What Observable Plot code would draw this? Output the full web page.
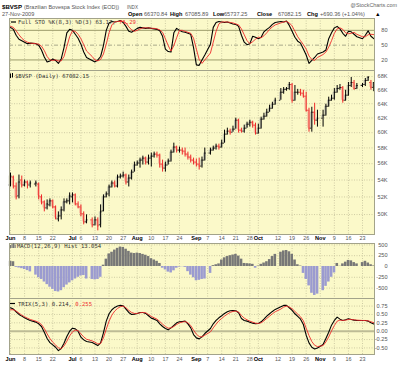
<!DOCTYPE html>
<html><head><meta charset="utf-8">
<script src="https://cdn.jsdelivr.net/npm/d3@7"></script>
<script src="https://cdn.jsdelivr.net/npm/@observablehq/plot@0.6"></script>
<style>
body{margin:0;background:#fff;}
#chart{position:relative;width:400px;height:365px;overflow:hidden;}
#chart svg{position:absolute;left:0;}
</style></head><body><div id="chart"></div>
<script>
// ---------- DATA ----------
const holidays = ["2009-06-11","2009-07-09","2009-09-07","2009-10-12","2009-11-02","2009-11-20"];

const open = [53400,54360,53280,52120,54000,53400,53760,53400,53520,53520,
52010,51430,50750,51090,51550,50860,49520,49850,50520,51430,
51550,52010,52240,51200,50860,50080,49190,49410,48870,49410,
48870,50410,52010,52350,53170,53640,53280,54360,54480,54600,
53760,54240,54960,55830,56080,56450,56700,56200,56700,56950,
57210,57080,55950,55450,55830,56330,57460,58110,57720,57720,
57590,57210,56830,56450,56200,55950,55700,56450,57340,57720,
57980,58230,58110,58620,59810,60210,60070,60480,61700,60340,
60210,60610,61150,61420,61020,59940,60610,61840,62250,62800,
63360,63930,64500,65660,66080,66200,66800,64500,65660,65660,
65520,65080,63080,60610,62800,61700,61970,62390,63640,64500,
64790,65660,66200,66350,64500,65230,66650,67100,66200,66650,
66800,67400,67100,66370.84];
const high = [54840,54480,53640,54600,54480,54000,53880,53880,53880,53640,
52240,51550,51660,51780,51660,50970,50300,50860,51780,51780,
52470,52470,52350,51430,51090,50300,49970,49630,49740,49630,
51090,52240,52580,53400,53880,53880,54600,54720,54960,54720,
54600,55210,56200,56330,56700,56950,56830,57080,57340,57460,
57460,57210,56450,56200,56580,57720,58620,58230,58110,57980,
57980,57460,57080,56700,56580,56700,56830,57980,57980,58230,
58490,58490,59020,60340,60610,60480,60880,61970,61840,60610,
61020,61420,61700,61560,61290,61150,62110,62660,63220,63790,
64210,64790,66200,66350,66350,67100,66950,66650,66080,66080,
65950,65660,63360,63500,64070,63080,63080,63930,64940,65230,
66200,66650,66800,66500,65950,67100,67850,67400,66950,66950,
67700,68000,67400,67085.89];
const low = [53170,52930,51660,51780,53050,53170,52930,53050,53170,51660,
51090,50300,50520,50860,50640,49410,49190,49410,50300,51200,
51090,51320,50970,50640,49740,48870,48980,48540,48760,48220,
48540,50300,51890,52010,53050,53050,53050,54120,54240,53400,
53170,54000,54960,55700,55450,55830,55830,55830,55580,56700,
56700,55450,54960,54960,55830,56200,57340,57340,57340,57080,
56830,56450,56080,55830,55580,55210,55450,56330,57080,57590,
57720,57720,57980,58620,59680,59680,60070,60480,59940,59940,
59940,60610,60750,60610,59680,59810,60480,61700,62110,62800,
63220,63790,64500,65370,65810,65950,64070,64360,65230,65080,
64790,62800,60070,60070,61020,60750,60750,62250,63500,64360,
64500,65520,65950,64070,64360,65080,66350,65950,66080,66350,
66500,67250,65950,65737.25];
const close = [54480,53280,52010,53760,53400,53760,53520,53640,53640,52120,
51320,50750,51200,51550,50860,49630,49850,50520,51430,51550,
52120,52240,51200,50860,50080,49190,49410,48870,49410,48760,
50300,52010,52350,53170,53640,53280,54360,54480,54600,53760,
54240,54960,55830,56080,56450,56700,56200,56700,56950,57210,
57080,55950,55450,55830,56330,57460,58110,57720,57720,57590,
57210,56830,56450,56200,55950,55700,56450,57340,57720,57980,
58230,58110,58620,59810,60210,60070,60480,61700,60340,60210,
60610,61150,61420,61020,59940,60610,61840,62250,62800,63360,
63930,64500,65660,66080,66200,66800,64500,65660,65660,65520,
65080,63080,60610,62800,61700,61970,62390,63640,64500,64790,
65660,66200,66350,64500,65230,66650,67100,66200,66650,66800,
67400,67850,66391.79,67082.15];

const stoK = [86,82,70,62,59,56,53,54,53,50,
40,26,16,18,22,19,13,22,45,75,
82,80,72,64,52,36,25,19,16,20,
27,49,80,95,98,97,98,100,96,88,
78,76,80,84,86,85,84,85,84,83,
82,79,68,42,37,36,75,84,80,77,
76,74,72,45,10,9,20,30,52,86,
96,98,97,96,97,95,93,92,88,70,
56,51,53,68,66,63,66,77,82,86,
92,96,98,97,99,90,78,66,58,54,
42,30,13,19,25,32,36,40,63,75,
85,88,83,74,68,78,77,72,67,63,
70,79,68,63.17];
const stoD = [88,86,79,71,64,59,56,54,53,52,
48,39,27,20,19,20,18,18,27,47,
67,79,78,72,63,51,38,27,20,18,
21,32,52,75,91,97,98,98,98,95,
87,81,78,80,83,85,85,85,84,84,
83,81,76,63,49,38,49,65,80,80,
78,76,74,64,42,21,13,20,34,56,
78,93,97,97,97,96,95,93,91,83,
71,59,53,57,62,66,65,69,75,82,
87,91,95,97,98,95,89,78,67,59,
51,42,28,21,19,25,31,36,46,59,
74,83,85,82,75,73,74,76,72,67,
67,71,72,71.29];
const macdHist = [120,110,-20,-35,-50,-70,-95,-125,-200,-260,
-300,-360,-420,-480,-530,-580,-590,-560,-490,-430,
-380,-330,-290,-250,-220,-210,-290,-300,-310,-300,
-250,30,170,290,330,380,420,450,440,400,
350,310,300,310,300,280,260,230,180,150,
120,70,-40,-80,-130,-150,-100,-40,-15,-5,
-20,-120,-200,-260,-330,-320,-300,-290,-160,20,
40,60,150,200,230,250,265,280,240,170,
70,65,60,50,-40,10,50,80,110,160,
230,280,330,360,370,340,280,150,40,10,
-160,-300,-450,-620,-670,-640,-560,-460,-360,-250,
-150,70,5,60,100,140,130,90,60,90,
120,80,40,13.054];
const trix = [0.70,0.66,0.58,0.50,0.45,0.40,0.36,0.32,0.27,0.22,
0.14,-0.03,-0.22,-0.34,-0.41,-0.48,-0.58,-0.52,-0.36,-0.16,
0.00,0.09,0.07,0.00,-0.18,-0.26,-0.31,-0.34,-0.38,-0.43,
-0.35,-0.05,0.30,0.52,0.64,0.71,0.75,0.77,0.76,0.66,
0.56,0.50,0.51,0.53,0.56,0.56,0.53,0.46,0.39,0.36,
0.32,0.22,0.14,0.08,0.04,0.10,0.17,0.25,0.28,0.29,
0.30,0.22,0.10,-0.10,-0.20,-0.23,-0.17,-0.07,0.08,0.22,
0.32,0.40,0.46,0.53,0.58,0.61,0.62,0.61,0.55,0.38,
0.32,0.30,0.27,0.24,0.22,0.23,0.28,0.36,0.45,0.52,
0.59,0.65,0.73,0.77,0.77,0.70,0.62,0.52,0.44,0.36,
0.20,-0.12,-0.35,-0.48,-0.53,-0.50,-0.40,-0.22,-0.03,0.18,
0.32,0.42,0.36,0.32,0.34,0.37,0.35,0.33,0.32,0.32,
0.32,0.30,0.25,0.214];
const trixSignal = [0.64,0.64,0.60,0.54,0.48,0.43,0.39,0.35,0.30,0.26,
0.20,0.08,-0.08,-0.22,-0.33,-0.41,-0.50,-0.52,-0.44,-0.30,
-0.14,-0.02,0.03,0.02,-0.08,-0.17,-0.24,-0.29,-0.33,-0.38,
-0.37,-0.20,0.06,0.30,0.48,0.60,0.68,0.73,0.75,0.70,
0.62,0.56,0.53,0.53,0.55,0.56,0.55,0.50,0.44,0.40,
0.36,0.29,0.21,0.14,0.09,0.10,0.14,0.20,0.25,0.27,
0.29,0.25,0.17,0.03,-0.09,-0.16,-0.17,-0.12,-0.02,0.10,
0.21,0.31,0.38,0.45,0.51,0.56,0.59,0.60,0.57,0.47,
0.39,0.34,0.30,0.27,0.24,0.23,0.25,0.31,0.38,0.45,
0.52,0.58,0.66,0.72,0.75,0.72,0.67,0.59,0.51,0.43,
0.31,0.09,-0.13,-0.31,-0.42,-0.46,-0.43,-0.32,-0.17,0.01,
0.17,0.30,0.33,0.32,0.33,0.35,0.35,0.34,0.33,0.32,
0.32,0.31,0.28,0.255];

const xTickDates = ["2009-06-01","2009-06-08","2009-06-15","2009-06-22","2009-07-01","2009-07-06","2009-07-13","2009-07-20","2009-07-27","2009-08-03","2009-08-10","2009-08-17","2009-08-24","2009-09-01","2009-09-07","2009-09-14","2009-09-21","2009-09-28","2009-10-01","2009-10-12","2009-10-19","2009-10-26","2009-11-02","2009-11-09","2009-11-16","2009-11-23"];
const xTickLabels = ["Jun","8","15","22","Jul","6","13","20","27","Aug","10","17","24","Sep","7","14","21","28","Oct","12","19","26","Nov","9","16","23"];
const stoTicks = [80,50,20];
const priceTicks = [68000,66000,64000,62000,60000,58000,56000,54000,52000,50000];
const priceTickLabels = ["68K","66K","64K","62K","60K","58K","56K","54K","52K","50K"];
const macdTicks = [500,250,0,-250,-500];
const trixTicks = [0.75,0.5,0.25,0,-0.25,-0.5];
const trixTickLabels = ["0.75","0.50","0.25","0.00","-0.25","-0.50"];

// ---------- build ----------
const fmt = d3.utcFormat("%Y-%m-%d");
const weekdays = d3.utcDay.range(new Date(Date.UTC(2009,5,1)), new Date(Date.UTC(2009,10,28)))
  .filter(d => d.getUTCDay() % 6 !== 0).map(fmt);
const slot = new Map(weekdays.map((s, k) => [s, k]));
const tradingDays = weekdays.filter(s => !holidays.includes(s));
const data = tradingDays.map((date, i) => ({
  date, j: slot.get(date), open: open[i], high: high[i], low: low[i], close: close[i],
  up: close[i] >= (i ? close[i-1] : open[i]),
  k: stoK[i], d: stoD[i], hist: macdHist[i], trix: trix[i], sig: trixSignal[i]
}));
const xTicks = xTickDates.map((s, n) => ({j: slot.get(s), label: xTickLabels[n], month: isNaN(+xTickLabels[n])}));

const BG = "#fbf9c9", BORDER = "#a3a38a", GRID = "#cfcca4";
const FONT = "'Liberation Sans', Arial, sans-serif";
const MONO = "'DejaVu Sans Mono', monospace";
const XDOM = [-0.36, 129.26];
const RED = "#ee2a2a";

function panel({height, marginBottom = 0, y, marks}) {
  return Plot.plot({
    width: 400, height, marginLeft: 9, marginRight: 26, marginTop: 0, marginBottom,
    x: {type: "linear", domain: XDOM, axis: null},
    y: {...y, axis: null},
    color: {type: "identity"},
    style: {background: "transparent", fontFamily: FONT, overflow: "visible"},
    marks: [
      Plot.frame({fill: BG, stroke: "none"}),
      Plot.ruleX(xTicks, {x: "j", stroke: GRID, strokeDasharray: "1,1.5"}),
      ...marks,
      Plot.frame({stroke: BORDER})
    ]
  });
}
function yLabels(ticks, labels) {
  return Plot.text(ticks, {y: d => d, text: (d, n) => labels ? labels[n] : String(d), frameAnchor: "right",
    dx: 13, textAnchor: "end", fontSize: 5.6, fill: "#555"});
}
function xLabels(dy) {
  return [
    Plot.text(xTicks.filter(t => !t.month), {x: "j", text: "label", frameAnchor: "bottom", dy, fontSize: 5.4, fill: "#555"}),
    Plot.text(xTicks.filter(t => t.month), {x: "j", text: "label", frameAnchor: "bottom", dy, fontSize: 5.6, fontWeight: "bold", fill: "#000"})
  ];
}

const root = document.getElementById("chart");
function place(svg, top) { svg.style.top = top + "px"; root.appendChild(svg); }

// Panel 1: Full Stochastics
place(panel({height: 52, y: {domain: [-1.4, 104]}, marks: [
  Plot.ruleY([80, 20], {stroke: "#9c9c6a", strokeWidth: 1}),
  Plot.ruleY([50], {stroke: "#a9a88a", strokeDasharray: "4,2,1,2"}),
  Plot.line(data, {x: "j", y: "k", stroke: "#000", strokeWidth: 1.1}),
  Plot.line(data, {x: "j", y: "d", stroke: RED, strokeWidth: 0.9}),
  yLabels(stoTicks)
]}), 18);

// Panel 2: price bars (log)
place(panel({height: 173, marginBottom: 9, y: {type: "log", domain: [47829, 68915]}, marks: [
  Plot.ruleY(priceTicks, {stroke: GRID, strokeDasharray: "1,1.5"}),
  Plot.rect(data, {x1: d => d.j - 0.45, x2: d => d.j + 0.45, y1: "open", y2: "close",
    fill: d => d.up ? "#c9c9b2" : "#f7c3a4"}),
  Plot.ruleX(data, {x: "j", y1: "low", y2: "high", stroke: d => d.up ? "#000" : RED, strokeWidth: 1}),
  Plot.ruleY(data, {y: "open", x1: d => d.j - 0.5, x2: "j", stroke: d => d.up ? "#000" : RED, strokeWidth: 0.8}),
  Plot.ruleY(data, {y: "close", x1: "j", x2: d => d.j + 0.5, stroke: d => d.up ? "#000" : RED, strokeWidth: 0.8}),
  yLabels(priceTicks, priceTickLabels),
  ...xLabels(5)
]}), 70);

// Panel 3: MACD histogram
place(panel({height: 55, y: {domain: [-741, 532]}, marks: [
  Plot.ruleY([500, 250, -250, -500], {stroke: GRID, strokeDasharray: "1,1.5"}),
  Plot.rect(data, {x1: d => d.j - 0.5, x2: d => d.j + 0.5, y1: () => 0, y2: "hist",
    fill: d => d.hist >= 0 ? "#777777" : "#9b9bd0", insetLeft: 0.25}),
  yLabels(macdTicks)
]}), 243);

// Panel 4: TRIX
place(panel({height: 67, marginBottom: 11, y: {domain: [-0.696, 0.976]}, marks: [
  Plot.ruleY([0.75, 0.5, 0.25, -0.25, -0.5], {stroke: GRID, strokeDasharray: "1,1.5"}),
  Plot.ruleY([0], {stroke: "#bdbb95", strokeWidth: 2}),
  Plot.line(data, {x: "j", y: "trix", stroke: "#000", strokeWidth: 1.1}),
  Plot.line(data, {x: "j", y: "sig", stroke: RED, strokeWidth: 0.9}),
  yLabels(trixTicks, trixTickLabels),
  ...xLabels(6)
]}), 298);

// ---------- header and legends (text overlay) ----------
const ov = d3.select(root).append("svg").attr("width", 400).attr("height", 365)
  .style("top", "0px").style("pointer-events", "none");
function txt(x, y, s, o = {}) {
  return ov.append("text").attr("x", x).attr("y", y).text(s)
    .attr("font-family", o.family || FONT).attr("font-size", o.size || 5.6)
    .attr("font-weight", o.bold ? "bold" : null).attr("fill", o.fill || "#555")
    .attr("text-anchor", o.anchor || null);
}
txt(2, 8.5, "$BVSP", {size: 6.1, bold: true, fill: "#000"});
txt(24, 8.5, "(Brazilian Bovespa Stock Index (EOD))", {size: 5.5});
txt(127, 8.5, "INDX", {size: 4.6});
txt(397, 7, "@StockCharts.com", {size: 5.4, anchor: "end", fill: "#666"});
const line2 = [[2,"27-Nov-2009",0],[128,"Open",1],[144,"66370.84",0],[170,"High",1],[185,"67085.89",0],
  [213,"Low",1],[224,"65737.25",0],[257,"Close",1],[278,"67082.15",0],[307,"Chg",1],[320,"+690.36 (+1.04%)",0],[375,"▲",1]];
for (const [x, s, b] of line2) txt(x, 16, s, {size: 5.6, bold: !!b, fill: b ? "#000" : "#555"});

// STO legend
ov.append("line").attr("x1", 11).attr("x2", 16).attr("y1", 22).attr("y2", 22).attr("stroke", "#000").attr("stroke-width", 1.2);
const t1 = txt(18, 24, "Full STO %K(8,3) %D(3) 63.17, ", {family: MONO, size: 5.6, fill: "#333"});
t1.append("tspan").attr("fill", RED).text("71.29");
// price legend
ov.append("rect").attr("x", 10).attr("y", 73.5).attr("width", 1).attr("height", 4.5).attr("fill", "#000");
ov.append("rect").attr("x", 12).attr("y", 73).attr("width", 1).attr("height", 4.5).attr("fill", "#000");
txt(15, 78, "$BVSP (Daily) 67082.15", {family: MONO, size: 5.6, fill: "#333"});
// MACD legend
[[10,3],[11.5,4],[13,5],[14.5,3.5]].forEach(([x,h]) => ov.append("rect").attr("x", x).attr("y", 248 - h).attr("width", 1.2).attr("height", h).attr("fill", "#777"));
txt(17, 248, "MACD(12,26,9) Hist 13.054", {family: MONO, size: 5.6, fill: "#333"});
// TRIX legend
ov.append("line").attr("x1", 10).attr("x2", 15).attr("y1", 303.5).attr("y2", 303.5).attr("stroke", "#000").attr("stroke-width", 1.2);
const t4 = txt(18, 305.5, "TRIX(5,3) 0.214, ", {family: MONO, size: 5.6, fill: "#333"});
t4.append("tspan").attr("fill", RED).text("0.255");
</script></body></html>
